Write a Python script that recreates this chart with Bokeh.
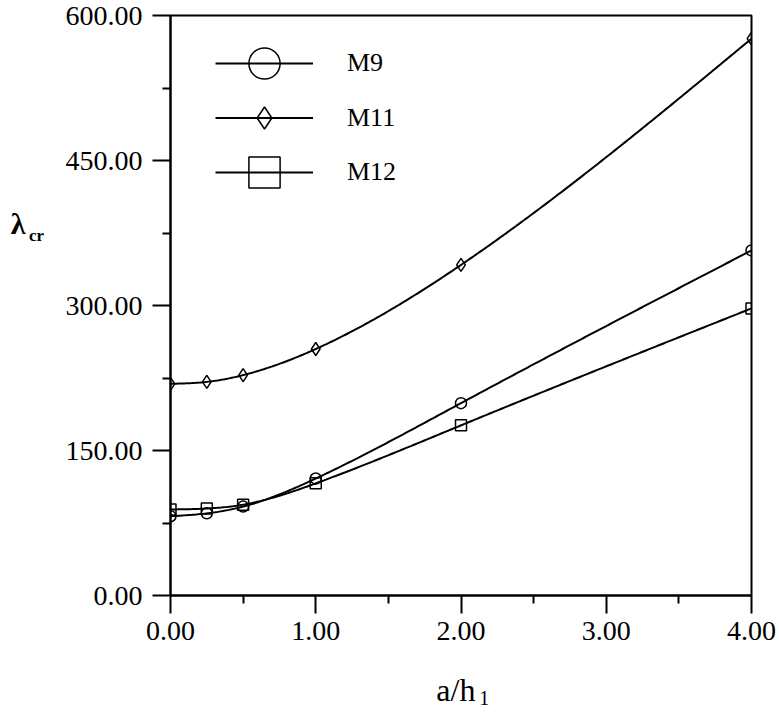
import numpy as np
from bokeh.plotting import figure
from bokeh.models import (FixedTicker, PrintfTickFormatter, Legend, LegendItem,
                          Label, Range1d)
from bokeh.embed import file_html
from bokeh.resources import INLINE

# ---- data ----
a_h = [0.0, 0.25, 0.5, 1.0, 2.0, 4.0]
m9 = [82, 85, 92, 121, 199, 357]
m11 = [219, 221, 228, 255, 342, 576]
m12 = [89, 90, 94, 116, 176, 297]

x_major = [0, 1, 2, 3, 4]
x_minor = [0.5, 1.5, 2.5, 3.5]
y_major = [0, 150, 300, 450, 600]
y_minor = [75, 225, 375, 525]

FONT = "Liberation Serif"


def spline(x, y, n=300):
    """Natural cubic spline through the given points (for drawing smooth lines)."""
    x = np.asarray(x, float)
    y = np.asarray(y, float)
    k = len(x)
    h = np.diff(x)
    A = np.zeros((k, k))
    b = np.zeros(k)
    A[0, 0] = 1
    A[-1, -1] = 1
    for i in range(1, k - 1):
        A[i, i - 1] = h[i - 1]
        A[i, i] = 2 * (h[i - 1] + h[i])
        A[i, i + 1] = h[i]
        b[i] = 6 * ((y[i + 1] - y[i]) / h[i] - (y[i] - y[i - 1]) / h[i - 1])
    M = np.linalg.solve(A, b)
    xs = np.linspace(x[0], x[-1], n)
    idx = np.clip(np.searchsorted(x, xs) - 1, 0, k - 2)
    x0 = x[idx]
    x1 = x[idx + 1]
    hh = x1 - x0
    t0 = x1 - xs
    t1 = xs - x0
    ys = ((M[idx] * t0 ** 3 + M[idx + 1] * t1 ** 3) / (6 * hh)
          + (y[idx] / hh - M[idx] * hh / 6) * t0
          + (y[idx + 1] / hh - M[idx + 1] * hh / 6) * t1)
    return xs, ys


p = figure(width=779, height=722, output_backend="svg", toolbar_location=None,
           x_range=Range1d(0, 4), y_range=Range1d(0, 600),
           min_border_left=170, min_border_right=28, min_border_top=15,
           min_border_bottom=127)

p.grid.visible = False
p.outline_line_color = "black"
p.outline_line_width = 2
p.background_fill_color = None
p.border_fill_color = "white"

for ax in (p.xaxis, p.yaxis):
    ax.axis_line_width = 2
    ax.axis_line_color = "black"
    ax.major_tick_line_width = 2
    ax.minor_tick_line_width = 2
    ax.major_tick_line_color = "black"
    ax.minor_tick_line_color = "black"
    ax.major_tick_in = 0
    ax.major_tick_out = 18
    ax.minor_tick_in = 0
    ax.minor_tick_out = 8
    ax.formatter = PrintfTickFormatter(format="%.2f")
    ax.major_label_text_font = FONT
    ax.major_label_text_font_size = "28px"
    ax.major_label_text_color = "black"

p.xaxis.ticker = FixedTicker(ticks=x_major, minor_ticks=x_minor)
p.yaxis.ticker = FixedTicker(ticks=y_major, minor_ticks=y_minor)
p.xaxis.major_label_standoff = 8
p.yaxis.major_label_standoff = 10

series = [("M9", m9, "circle"), ("M11", m11, "diamond"), ("M12", m12, "square")]
renders = {}
for name, vals, mk in series:
    xs, ys = spline(a_h, vals)
    ln = p.line(xs, ys, line_color="black", line_width=2)
    sc = p.scatter(a_h, vals, marker=mk, size=11 if mk != "diamond" else 13,
                   line_color="black", line_width=1.5, fill_alpha=0)
    renders[name] = (ln, sc)

# one legend per entry so each symbol can take its own size
leg_specs = [("M9", 78, 493), ("M11", 55, 450), ("M12", 78, 384)]
for name, gh, vy in leg_specs:
    leg = Legend(items=[LegendItem(label=name, renderers=list(renders[name]))],
                 location=(45, vy), glyph_width=98, glyph_height=gh,
                 label_height=gh, label_standoff=34, padding=0, margin=0,
                 spacing=0, border_line_color=None, background_fill_alpha=0,
                 label_text_font=FONT, label_text_font_size="26px",
                 label_text_color="black", label_text_baseline="middle")
    p.add_layout(leg, "center")

# axis titles (with subscripts), placed in the side panels so they are not clipped
p.add_layout(Label(x=-1.10, y=385, text="λ",
                   text_font=FONT, text_font_size="30px", text_font_style="bold",
                   text_baseline="middle", text_align="left", text_color="black"), "left")
p.add_layout(Label(x=-0.975, y=372, text="cr",
                   text_font=FONT, text_font_size="17px", text_font_style="bold",
                   text_baseline="middle", text_align="left", text_color="black"), "left")
p.add_layout(Label(x=1.83, y=-98, text="a/h",
                   text_font=FONT, text_font_size="32px",
                   text_baseline="middle", text_align="left", text_color="black"), "below")
p.add_layout(Label(x=2.125, y=-106, text="1",
                   text_font=FONT, text_font_size="20px",
                   text_baseline="middle", text_align="left", text_color="black"), "below")

open("out.html", "w").write(file_html(p, INLINE))
